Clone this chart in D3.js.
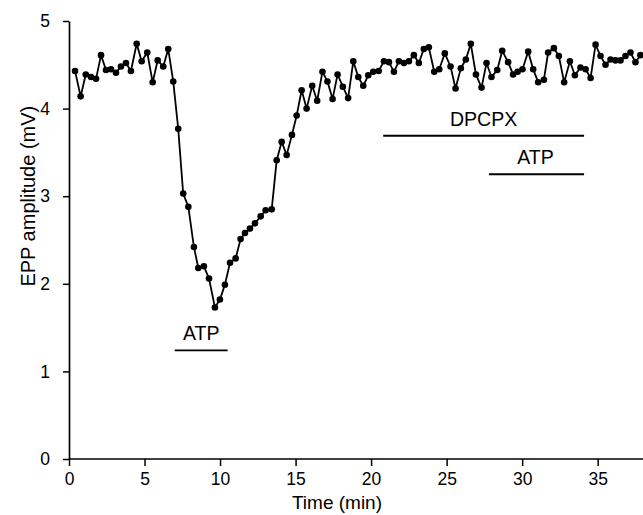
<!DOCTYPE html>
<html>
<head>
<meta charset="utf-8">
<script src="https://cdn.jsdelivr.net/npm/d3@7"></script>
<style>
  html, body { margin: 0; padding: 0; background: #fff; }
  svg { display: block; font-family: "Liberation Sans", Arial, Helvetica, sans-serif; }
</style>
</head>
<body>
<svg id="chart" width="643" height="515"></svg>
<script>
// ---- Data ----
const times = [
  0.40, 0.77, 1.11, 1.46, 1.79, 2.12, 2.45, 2.78, 3.11, 3.44,
  3.77, 4.10, 4.48, 4.81, 5.18, 5.54, 5.87, 6.24, 6.57, 6.90,
  7.23, 7.56, 7.90, 8.27, 8.56, 8.93, 9.27, 9.66, 9.99, 10.32,
  10.66, 11.03, 11.36, 11.65, 11.98, 12.31, 12.69, 13.02, 13.42, 13.75,
  14.08, 14.41, 14.76, 15.07, 15.40, 15.73, 16.10, 16.43, 16.78, 17.11,
  17.45, 17.78, 18.13, 18.48, 18.82, 19.15, 19.48, 19.81, 20.14, 20.50,
  20.85, 21.18, 21.51, 21.84, 22.17, 22.50, 22.83, 23.16, 23.49, 23.82,
  24.18, 24.51, 24.88, 25.26, 25.59, 25.94, 26.27, 26.60, 26.94, 27.31,
  27.64, 27.97, 28.35, 28.68, 29.07, 29.40, 29.70, 30.02, 30.40, 30.73,
  31.06, 31.44, 31.72, 32.10, 32.43, 32.78, 33.16, 33.49, 33.86, 34.20,
  34.53, 34.86, 35.19, 35.52, 35.85, 36.18, 36.51, 36.84, 37.17, 37.50,
  37.83
];
const eppAmplitude = [
  4.43, 4.14, 4.39, 4.36, 4.34, 4.61, 4.44, 4.45, 4.41, 4.48,
  4.52, 4.43, 4.74, 4.54, 4.64, 4.30, 4.55, 4.48, 4.68, 4.31,
  3.77, 3.03, 2.88, 2.42, 2.18, 2.20, 2.06, 1.73, 1.82, 1.99,
  2.24, 2.29, 2.51, 2.58, 2.63, 2.69, 2.77, 2.84, 2.85, 3.41,
  3.62, 3.47, 3.70, 3.92, 4.21, 4.00, 4.26, 4.09, 4.42, 4.31,
  4.11, 4.39, 4.25, 4.12, 4.54, 4.36, 4.26, 4.38, 4.42, 4.43,
  4.54, 4.53, 4.42, 4.54, 4.52, 4.54, 4.61, 4.52, 4.68, 4.70,
  4.42, 4.45, 4.63, 4.48, 4.23, 4.46, 4.56, 4.74, 4.39, 4.24,
  4.52, 4.36, 4.44, 4.66, 4.53, 4.39, 4.42, 4.45, 4.65, 4.45,
  4.30, 4.33, 4.64, 4.69, 4.60, 4.30, 4.54, 4.38, 4.47, 4.45,
  4.35, 4.73, 4.60, 4.50, 4.56, 4.55, 4.55, 4.60, 4.64, 4.53,
  4.61
];
const xTicks = [0, 5, 10, 15, 20, 25, 30, 35];
const yTicks = [0, 1, 2, 3, 4, 5];
// Treatment bars: label, start (min), end (min), level (mV)
const barLabels = ["ATP", "DPCPX", "ATP"];
const barStarts = [7.0, 20.8, 27.8];
const barEnds   = [10.5, 34.1, 34.1];
const barLevels = [1.24, 3.69, 3.25];
const xLabel = "Time (min)";
const yLabel = "EPP amplitude (mV)";

// ---- Drawing ----
const svg = d3.select("#chart");
const x = d3.scaleLinear().domain([0, 38]).range([69, 643]);
const y = d3.scaleLinear().domain([0, 5]).range([459, 21]);

// Axes
const xAxis = d3.axisBottom(x).tickValues(xTicks).tickFormat(d3.format("d"))
  .tickSize(7).tickPadding(7).tickSizeOuter(0);
const yAxis = d3.axisLeft(y).tickValues(yTicks).tickFormat(d3.format("d"))
  .tickSize(6).tickPadding(13).tickSizeOuter(0);

const gx = svg.append("g").attr("transform", `translate(0,${y(0)})`).call(xAxis);
gx.select(".domain").attr("d", `M${x(0)},0H643`);
const gy = svg.append("g").attr("transform", `translate(${x(0)},0)`).call(yAxis);

[gx, gy].forEach(g => {
  g.selectAll(".domain").attr("stroke", "#000").attr("stroke-width", 1.7);
  g.selectAll(".tick line").attr("stroke", "#000").attr("stroke-width", 1.5);
  g.selectAll(".tick text").attr("fill", "#000").attr("font-size", 17.5)
    .attr("font-family", "'Liberation Sans', Arial, sans-serif");
});

// Axis titles
svg.append("text")
  .attr("x", 337).attr("y", 509)
  .attr("text-anchor", "middle").attr("font-size", 19).attr("fill", "#000")
  .text(xLabel);
svg.append("text")
  .attr("transform", `translate(35,${y(3)}) rotate(-90)`)
  .attr("text-anchor", "middle").attr("font-size", 20).attr("fill", "#000")
  .text(yLabel);

// Data line and points
const pts = times.map((t, i) => ({ t, v: eppAmplitude[i] }));
const line = d3.line().x(d => x(d.t)).y(d => y(d.v));
svg.append("path").datum(pts)
  .attr("d", line).attr("fill", "none").attr("stroke", "#000").attr("stroke-width", 1.8);
svg.append("g").selectAll("circle").data(pts).join("circle")
  .attr("cx", d => x(d.t)).attr("cy", d => y(d.v)).attr("r", 3.3).attr("fill", "#000");

// Treatment bars with labels
const bars = barLabels.map((l, i) => ({ l, s: barStarts[i], e: barEnds[i], v: barLevels[i] }));
const bg = svg.append("g");
bg.selectAll("line").data(bars).join("line")
  .attr("x1", d => x(d.s)).attr("x2", d => x(d.e))
  .attr("y1", d => y(d.v)).attr("y2", d => y(d.v))
  .attr("stroke", "#000").attr("stroke-width", 1.9);
bg.selectAll("text").data(bars).join("text")
  .attr("x", d => (x(d.s) + x(d.e)) / 2 + (d.l === "ATP" && d.s > 20 ? -1 : 0))
  .attr("y", d => y(d.v) - 10)
  .attr("text-anchor", "middle").attr("font-size", 19.5).attr("fill", "#000")
  .text(d => d.l);
</script>
</body>
</html>
